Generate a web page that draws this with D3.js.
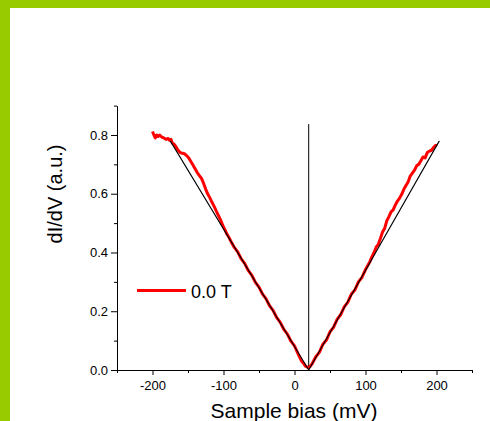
<!DOCTYPE html>
<html>
<head>
<meta charset="utf-8">
<script src="https://cdn.jsdelivr.net/npm/d3@7"></script>
<style>
  html, body { margin: 0; padding: 0; background: #fff; }
  svg { display: block; font-family: "Liberation Sans", Arial, sans-serif; }
</style>
</head>
<body>
<svg id="chart" width="490" height="421"></svg>
<script>
// ---- data ----
const biasMV = [
  -200,-198,-196,-194,-192,-190,-187,-184,-181,-178,-176,-174,-172,-170,-167,-164,-161,-158,-155,-152,
  -149,-146,-143,-140,-137,-134,-131,-128,-125,-122,-119,-116,-113,-110,-107,-104,-101,-98,-95,-92,
  -90,-85,-80,-75,-70,-65,-60,-55,-50,-45,-40,-35,-30,-25,-20,-15,-10,-5,0,5,8,10,12,14,16,18,20,22,
  25,30,35,40,45,50,55,60,65,70,75,80,85,90,95,100,103,106,109,112,115,118,121,124,127,130,133,136,
  139,142,145,148,151,154,157,160,163,166,169,172,175,178,181,184,187,190,193,196,199,200
];
const didv0T = [
  0.812,0.800,0.790,0.800,0.795,0.800,0.793,0.790,0.785,0.788,0.782,0.785,0.772,0.770,0.760,0.748,0.740,0.738,0.736,0.730,
  0.722,0.710,0.698,0.685,0.672,0.662,0.652,0.635,0.615,0.598,0.585,0.570,0.556,0.540,0.525,0.510,0.492,0.478,0.462,0.450,
  0.440,0.418,0.402,0.378,0.362,0.338,0.322,0.298,0.282,0.258,0.242,0.218,0.202,0.178,0.162,0.138,0.122,0.098,0.082,0.055,0.040,0.030,0.025,0.018,0.012,0.010,0.008,0.012,
  0.022,0.045,0.060,0.088,0.102,0.130,0.145,0.172,0.188,0.215,0.230,0.258,0.272,0.300,0.315,0.342,0.355,0.368,0.385,0.400,0.418,0.428,0.448,0.470,0.482,0.508,0.522,0.538,
  0.545,0.562,0.575,0.585,0.598,0.615,0.628,0.640,0.660,0.670,0.680,0.695,0.700,0.712,0.725,0.722,0.740,0.745,0.748,0.758,0.765,0.762
];
const fitX = [-175, 20, 204];
const fitY = [0.78, 0.0, 0.78];
const markerX = [20, 20];
const markerY = [0.0, 0.837];
const xTicks = [-200, -100, 0, 100, 200];
const xMinorTicks = [-250, -150, -50, 50, 150, 250];
const yTicks = [0.0, 0.2, 0.4, 0.6, 0.8];
const yMinorTicks = [0.1, 0.3, 0.5, 0.7, 0.9];
const legendLabel = "0.0 T";
const xTitle = "Sample bias (mV)";
const yTitle = "dI/dV (a.u.)";

// ---- drawing ----
const svg = d3.select("#chart");
const W = 490, H = 421;

// green frame
svg.append("rect").attr("x", 0).attr("y", 0).attr("width", W).attr("height", 8).attr("fill", "#99cc00");
svg.append("rect").attr("x", 0).attr("y", 0).attr("width", 10).attr("height", H).attr("fill", "#99cc00");

const x = d3.scaleLinear().domain([-250, 250]).range([117, 472]);
const y = d3.scaleLinear().domain([0, 0.9]).range([370, 105.6]);

// axes
const xAxis = svg.append("g").attr("transform", `translate(0,${y(0)})`)
  .call(d3.axisBottom(x).tickValues(xTicks).tickFormat(d => String(d)).tickSize(5).tickSizeOuter(0).tickPadding(6));
const xMinor = svg.append("g").attr("transform", `translate(0,${y(0)})`)
  .call(d3.axisBottom(x).tickValues(xMinorTicks).tickFormat("").tickSize(3).tickSizeOuter(0));
xMinor.select(".domain").remove();

const yAxis = svg.append("g").attr("transform", `translate(${x(-250)},0)`)
  .call(d3.axisLeft(y).tickValues(yTicks).tickFormat(d => d.toFixed(1)).tickSize(6).tickSizeOuter(0).tickPadding(3));
const yMinor = svg.append("g").attr("transform", `translate(${x(-250)},0)`)
  .call(d3.axisLeft(y).tickValues(yMinorTicks).tickFormat("").tickSize(3).tickSizeOuter(0));
yMinor.select(".domain").remove();

svg.selectAll(".tick text").attr("font-size", 13).attr("font-family", "Liberation Sans, Arial, sans-serif").attr("fill", "#000");
svg.selectAll(".domain, .tick line").attr("stroke", "#000").attr("stroke-width", 1);

// vertical marker line
svg.append("line")
  .attr("x1", x(markerX[0])).attr("x2", x(markerX[1]))
  .attr("y1", y(markerY[0])).attr("y2", y(markerY[1]))
  .attr("stroke", "#000").attr("stroke-width", 1);

// data (red)
const data = biasMV.map((v, i) => [v, didv0T[i]]);
const line = d3.line().x(d => x(d[0])).y(d => y(d[1]));
svg.append("path").datum(data)
  .attr("d", line)
  .attr("fill", "none").attr("stroke", "#ff0000").attr("stroke-width", 3).attr("stroke-linejoin", "round");

// fit (black)
const fit = fitX.map((v, i) => [v, fitY[i]]);
svg.append("path").datum(fit)
  .attr("d", line)
  .attr("fill", "none").attr("stroke", "#000").attr("stroke-width", 1.1);

// legend
svg.append("line").attr("x1", 137).attr("x2", 186).attr("y1", 290.5).attr("y2", 290.5)
  .attr("stroke", "#ff0000").attr("stroke-width", 3);
svg.append("text").attr("x", 191).attr("y", 298).attr("font-size", 18).attr("fill", "#000").text(legendLabel);

// titles
svg.append("text").attr("x", 294).attr("y", 418).attr("text-anchor", "middle")
  .attr("font-size", 21).attr("fill", "#000").text(xTitle);
svg.append("text").attr("transform", "translate(62,194) rotate(-90)").attr("text-anchor", "middle")
  .attr("font-size", 20).attr("fill", "#000").text(yTitle);
</script>
</body>
</html>
